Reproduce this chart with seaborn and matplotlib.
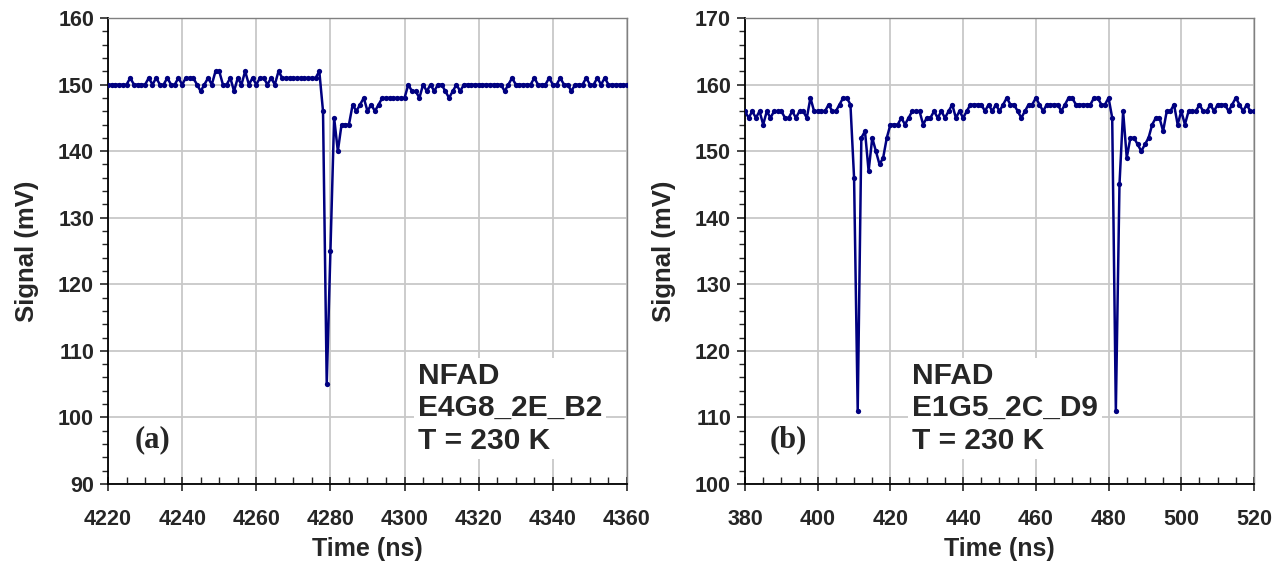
import numpy as np
import pandas as pd
import matplotlib
matplotlib.use("Agg")
import matplotlib.pyplot as plt
from matplotlib.ticker import MultipleLocator
import seaborn as sns

# ---- data: panel (a) ----
time_a_start = 4220
signal_a = [
    150, 150, 150, 150, 150, 150, 151, 150, 150, 150,
    150, 151, 150, 151, 150, 150, 151, 150, 150, 151,
    150, 151, 151, 151, 150, 149, 150, 151, 150, 152,
    152, 150, 150, 151, 149, 151, 150, 152, 150, 151,
    150, 151, 151, 150, 151, 150, 152, 151, 151, 151,
    151, 151, 151, 151, 151, 151, 151, 152, 146, 105,
    125, 145, 140, 144, 144, 144, 147, 146, 147, 148,
    146, 147, 146, 147, 148, 148, 148, 148, 148, 148,
    148, 150, 149, 149, 148, 150, 149, 150, 149, 150,
    150, 149, 148, 149, 150, 149, 150, 150, 150, 150,
    150, 150, 150, 150, 150, 150, 150, 149, 150, 151,
    150, 150, 150, 150, 150, 151, 150, 150, 150, 151,
    150, 150, 151, 150, 150, 149, 150, 150, 150, 151,
    150, 150, 151, 150, 151, 150, 150, 150, 150, 150,
    150,
]
time_a = [time_a_start + i for i in range(len(signal_a))]

# ---- data: panel (b) ----
time_b_start = 380
signal_b = [
    156, 155, 156, 155, 156, 154, 156, 155, 156, 156,
    156, 155, 155, 156, 155, 156, 156, 155, 158, 156,
    156, 156, 156, 157, 156, 156, 157, 158, 158, 157,
    146, 111, 152, 153, 147, 152, 150, 148, 149, 152,
    154, 154, 154, 155, 154, 155, 156, 156, 156, 154,
    155, 155, 156, 155, 156, 155, 156, 157, 155, 156,
    155, 156, 157, 157, 157, 157, 156, 157, 156, 157,
    156, 157, 158, 157, 157, 156, 155, 156, 157, 157,
    158, 157, 156, 157, 157, 157, 157, 156, 157, 158,
    158, 157, 157, 157, 157, 157, 158, 158, 157, 157,
    158, 155, 111, 145, 156, 149, 152, 152, 151, 150,
    151, 152, 154, 155, 155, 153, 156, 156, 157, 154,
    156, 154, 156, 156, 156, 157, 156, 156, 157, 156,
    157, 157, 157, 156, 157, 158, 157, 156, 157, 156,
    156,
]
time_b = [time_b_start + i for i in range(len(signal_b))]

panel_labels = ["(a)", "(b)"]
device_texts = ["NFAD\nE4G8_2E_B2\nT = 230 K", "NFAD\nE1G5_2C_D9\nT = 230 K"]
xlims = [(4220, 4360), (380, 520)]
ylims = [(90, 160), (100, 170)]

df_a = pd.DataFrame({"Time (ns)": time_a, "Signal (mV)": signal_a})
df_b = pd.DataFrame({"Time (ns)": time_b, "Signal (mV)": signal_b})

sns.set_style("white")
plt.rcParams["font.family"] = ["Liberation Sans", "DejaVu Sans"]
plt.rcParams["font.weight"] = "bold"

fig = plt.figure(figsize=(12.79, 5.65), dpi=100)
ax_a = fig.add_axes([108 / 1279, 81 / 565, 519 / 1279, 466 / 565])
ax_b = fig.add_axes([745 / 1279, 81 / 565, 509 / 1279, 466 / 565])

line_color = "#000080"
for ax, df, lab, xl, yl in zip([ax_a, ax_b], [df_a, df_b], panel_labels, xlims, ylims):
    sns.lineplot(data=df, x="Time (ns)", y="Signal (mV)", ax=ax, color=line_color,
                 linewidth=1.8, marker="o", markersize=3.8, markeredgewidth=0,
                 zorder=3)
    ax.set_xlim(*xl)
    ax.set_ylim(*yl)
    ax.xaxis.set_major_locator(MultipleLocator(20))
    ax.xaxis.set_minor_locator(MultipleLocator(5))
    ax.yaxis.set_major_locator(MultipleLocator(10))
    ax.yaxis.set_minor_locator(MultipleLocator(2))
    ax.grid(True, which="major", color="#c8c8c8", linewidth=1.3, zorder=0)
    ax.set_axisbelow(True)
    ax.tick_params(axis="x", which="major", direction="inout", length=10, width=1.2,
                   labelsize=15.5, pad=13, bottom=True)
    ax.tick_params(axis="x", which="minor", direction="in", length=5, width=1, bottom=True)
    ax.tick_params(axis="y", which="major", direction="out", length=6, width=1.2,
                   labelsize=15.5, pad=4, left=True)
    ax.tick_params(axis="y", which="minor", direction="out", length=4, width=1, left=True)
    for t in ax.get_xticklabels() + ax.get_yticklabels():
        t.set_fontweight("bold")
    ax.set_xlabel("Time (ns)", fontsize=18, fontweight="bold", labelpad=5)
    ax.set_ylabel("Signal (mV)", fontsize=18.5, fontweight="bold", labelpad=14)
    for s in ["left", "bottom"]:
        ax.spines[s].set_color("black")
        ax.spines[s].set_linewidth(1.3)
    for s in ["top", "right"]:
        ax.spines[s].set_color("#808080")
        ax.spines[s].set_linewidth(1.0)
    ax.text(0.085, 0.094, lab, transform=ax.transAxes, ha="center", va="center",
            fontsize=22, fontweight="bold", family=["Liberation Serif", "DejaVu Serif"],
            bbox=dict(facecolor="white", edgecolor="none", pad=2), zorder=4)

ax_a.text(0.597, 0.262, device_texts[0], transform=ax_a.transAxes, ha="left", va="top",
          fontsize=21.5, fontweight="bold", linespacing=1.2,
          bbox=dict(facecolor="white", edgecolor="none", pad=3), zorder=4)
ax_b.text(0.328, 0.262, device_texts[1], transform=ax_b.transAxes, ha="left", va="top",
          fontsize=21.5, fontweight="bold", linespacing=1.2,
          bbox=dict(facecolor="white", edgecolor="none", pad=3), zorder=4)

fig.savefig("out.png", dpi=100)
